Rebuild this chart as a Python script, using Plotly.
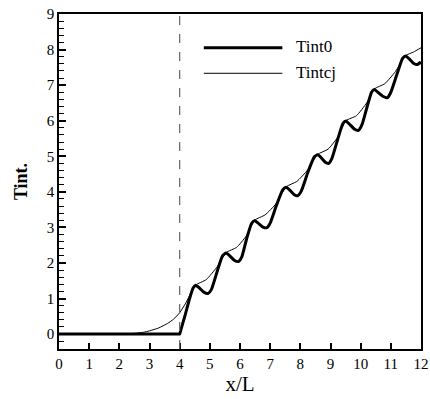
import plotly.graph_objects as go

# ---- data ----
tint0_x = [0, 1.0, 2.0, 3.0, 3.5, 3.9, 3.97, 4.0, 4.04, 4.17, 4.33, 4.45, 4.53, 4.65, 4.8, 4.94, 5.05, 5.25, 5.42, 5.54, 5.66, 5.82, 5.95,
           6.06, 6.22, 6.38, 6.48, 6.6, 6.76, 6.89, 7.0, 7.2, 7.42, 7.53, 7.65, 7.8, 7.91,
           8.03, 8.25, 8.46, 8.57, 8.69, 8.83, 8.94, 9.05, 9.23, 9.41, 9.51, 9.63, 9.8, 9.93,
           10.04, 10.2, 10.36, 10.45, 10.57, 10.75, 10.89, 11.0, 11.2, 11.39, 11.49, 11.61, 11.76, 11.88, 12.0]
tint0_y = [0, 0, 0, 0, 0, 0, 0, 0, 0.12, 0.5, 1.0, 1.3, 1.37, 1.3, 1.18, 1.14, 1.25, 1.78, 2.2, 2.28, 2.2, 2.07, 2.04,
           2.17, 2.68, 3.1, 3.19, 3.12, 3.01, 2.99, 3.12, 3.6, 4.06, 4.13, 4.05, 3.92, 3.89,
           4.02, 4.55, 4.98, 5.04, 4.96, 4.83, 4.80, 4.95, 5.45, 5.92, 5.99, 5.9, 5.76, 5.73,
           5.88, 6.35, 6.8, 6.88, 6.8, 6.68, 6.65, 6.8, 7.3, 7.75, 7.82, 7.74, 7.61, 7.58, 7.65]

tintcj_x = [0, 1.0, 1.8, 2.2, 2.5, 2.8, 3.0, 3.3, 3.6, 3.8, 4.0, 4.2, 4.4, 4.53, 4.88, 5.25, 5.54, 5.89, 6.2,
            6.48, 6.83, 7.2, 7.53, 7.88, 8.25, 8.57, 8.92, 9.25, 9.51, 9.86, 10.2, 10.45,
            10.8, 11.15, 11.49, 11.75, 12.0]
tintcj_y = [0, 0, 0, 0.005, 0.02, 0.05, 0.09, 0.17, 0.3, 0.42, 0.6, 0.87, 1.2, 1.38, 1.53, 1.9, 2.29, 2.44, 2.75,
            3.2, 3.35, 3.67, 4.14, 4.29, 4.62, 5.05, 5.2, 5.55, 6.0, 6.14, 6.5, 6.89,
            7.04, 7.38, 7.83, 7.93, 8.05]

legend_names = ["Tint0", "Tintcj"]
marker_x = 4

FONT = "Liberation Serif"

fig = go.Figure()
fig.add_trace(go.Scatter(x=tintcj_x, y=tintcj_y, mode="lines", name=legend_names[1],
                         line=dict(color="black", width=1, shape="spline", smoothing=0.5)))
fig.add_trace(go.Scatter(x=tint0_x, y=tint0_y, mode="lines", name=legend_names[0],
                         line=dict(color="black", width=3, shape="spline", smoothing=0.5)))

# dashed vertical marker
fig.add_shape(type="line", xref="x", yref="paper", x0=marker_x, x1=marker_x, y0=0, y1=1,
              line=dict(color="#666666", width=1.2, dash="dash"))

# manual legend
lx0, lx1 = 0.40, 0.617
for name, w, yp in [(legend_names[0], 3, 0.899), (legend_names[1], 1, 0.823)]:
    fig.add_shape(type="line", xref="paper", yref="paper", x0=lx0, x1=lx1, y0=yp, y1=yp,
                  line=dict(color="black", width=w))
    fig.add_annotation(xref="paper", yref="paper", x=0.648, y=yp + 0.003, text=name,
                       showarrow=False, xanchor="left", yanchor="middle",
                       font=dict(family=FONT, size=17, color="black"))

fig.update_layout(
    template="none",
    width=430, height=399,
    margin=dict(l=59, r=9, t=14, b=50),
    paper_bgcolor="white", plot_bgcolor="white",
    showlegend=False,
    font=dict(family=FONT, color="black"),
)
fig.update_xaxes(
    range=[0, 12], dtick=1, ticks="inside", ticklen=6, tickwidth=1.5, tickcolor="black",
    showline=True, linecolor="black", linewidth=1.5, mirror=True,
    showgrid=False, zeroline=False,
    tickfont=dict(family=FONT, size=15, color="black"),
    title=dict(text="x/L", font=dict(family=FONT, size=21, color="black"), standoff=4),
)
fig.update_yaxes(
    range=[-0.42, 9], dtick=1, ticks="inside", ticklen=7, tickwidth=1.5, tickcolor="black",
    showline=True, linecolor="black", linewidth=1.5, mirror=True,
    showgrid=False, zeroline=False,
    minor=dict(dtick=0.2, ticks="inside", ticklen=5, tickcolor="black", tickwidth=1.2,
               showgrid=False),
    tickfont=dict(family=FONT, size=15, color="black"),
    title=dict(text="<b>Tint.</b>", font=dict(family=FONT, size=18, color="black"), standoff=14),
)

fig.write_html("out.html")
